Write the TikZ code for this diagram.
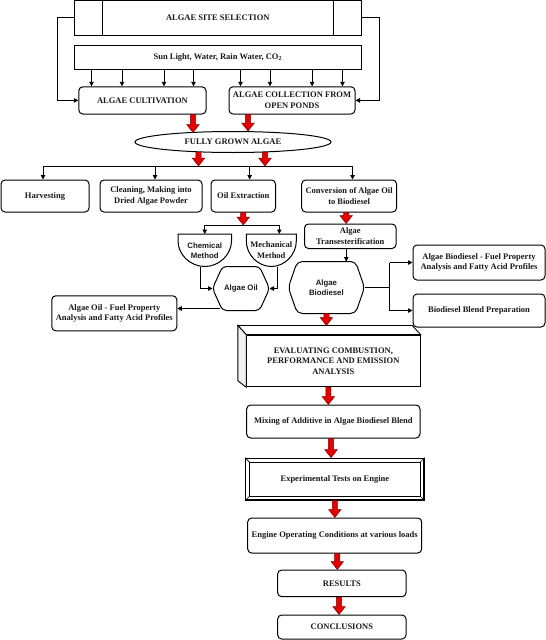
\documentclass[tikz,border=0pt]{standalone}
\usepackage{fontspec}
\setmainfont{Liberation Serif}
\newfontfamily\sansf{Liberation Sans}
\usetikzlibrary{arrows.meta,shapes.geometric,calc}
\definecolor{redfill}{RGB}{228,0,0}
\definecolor{redline}{RGB}{130,0,0}
\definecolor{txt}{RGB}{25,25,25}
\definecolor{sideface}{RGB}{242,242,242}
\newcommand\redarr[2]{\path[redarrow] let \p1=(#1), \p2=(#2) in
  (\x1-2.6pt,\y1) -- (\x1-2.6pt,\y2+8pt) -- (\x1-6.3pt,\y2+8pt) -- (\x1,\y2)
  -- (\x1+6.3pt,\y2+8pt) -- (\x1+2.6pt,\y2+8pt) -- (\x1+2.6pt,\y1) -- cycle;}
\begin{document}
\begin{tikzpicture}[x=1pt,y=-1pt,
  base/.style={line width=1pt, align=center, inner sep=1pt, text=txt,
    font=\bfseries\fontsize{8.5}{10.5}\selectfont},
  sz/.style 2 args={minimum width=#1pt, minimum height=#2pt},
  sq/.style={base, draw, rectangle},
  rbox/.style={base, draw, rectangle, rounded corners=4pt},
  ghost/.style={base, rectangle},
  sansfont/.style={font=\sansf\bfseries\fontsize{7.8}{10}\selectfont},
  outline/.style={line width=1pt, draw=black},
  arr/.style={line width=0.9pt, -{Triangle[length=4.5pt,width=4.5pt]}},
  conn/.style={line width=0.9pt},
  redarrow/.style={fill=redfill, draw=redline, line width=0.5pt, line join=miter},
]
\useasboundingbox (0,0) rectangle (546,640);

% ---- top boxes
\node[sq, sz={286.4}{34.2}] (site) at (217.8,17.9) {ALGAE SITE SELECTION};
\draw[outline] ([xshift=28.5pt]site.north west) -- ([xshift=28.5pt]site.south west);
\draw[outline] ([xshift=-28.5pt]site.north east) -- ([xshift=-28.5pt]site.south east);
\node[sq, sz={286.4}{23.8}] (sun) at (217.8,57.4) {Sun Light, Water, Rain Water, CO\textsubscript{2}};
\node[rbox, sz={127.2}{27.2}] (cult) at (142.4,100.4) {ALGAE CULTIVATION};
\node[rbox, sz={126}{27.2}] (coll) at (292,100.4) {ALGAE COLLECTION FROM\\OPEN PONDS};
\node[base, draw, ellipse, inner sep=0pt, sz={196}{21}] (ell) at (233,142) {FULLY GROWN ALGAE};

% ---- second row
\node[rbox, sz={88}{32}] (harv) at (45,196) {Harvesting};
\node[rbox, sz={102}{32}] (clean) at (151,196) {Cleaning, Making into\\Dried Algae Powder};
\node[rbox, sz={64.5}{32}] (oilx) at (243.25,196) {Oil Extraction};
\node[rbox, sz={94.9}{32}] (conv) at (349.15,196) {Conversion of Algae Oil\\to Biodiesel};

% ---- oil branch
\node[ghost, sansfont, sz={52.5}{31.5}] (chem) at (204.75,250.25) {Chemical\\Method};
\draw[outline] (chem.north west) -- (chem.north east) -- ([yshift=-7pt]chem.north east)
  .. controls +(0pt,-13.5pt) and +(14.5pt,0pt) .. (chem.south)
  .. controls +(-14.5pt,0pt) and +(0pt,-13.5pt) .. ([yshift=-7pt]chem.north west) -- cycle;
\node[ghost, sz={49}{31.5}] (mech) at (271.3,250.25) {Mechanical\\Method};
\draw[outline] (mech.north west) -- (mech.north east) -- ([yshift=-7pt]mech.north east)
  .. controls +(0pt,-13.5pt) and +(13.5pt,0pt) .. (mech.south)
  .. controls +(-13.5pt,0pt) and +(0pt,-13.5pt) .. ([yshift=-7pt]mech.north west) -- cycle;
\node[ghost, sansfont, sz={56}{43}] (oil) at (241,288.5) {Algae Oil};
\draw[outline, rounded corners=4pt] (oil.west) -- ([xshift=10pt]oil.north west)
  -- ([xshift=-10pt]oil.north east) -- (oil.east) -- ([xshift=-10pt]oil.south east)
  -- ([xshift=10pt]oil.south west) -- cycle;
\node[rbox, sz={125}{35}] (afp) at (114.3,313.3) {Algae Oil - Fuel Property\\Analysis and Fatty Acid Profiles};

% ---- biodiesel branch
\node[rbox, sz={91.5}{24.5}] (trans) at (350.25,236.25) {Algae\\Transesterification};
\node[ghost, sansfont, sz={75.2}{51}] (bd) at (326.4,287.5) {Algae\\Biodiesel};
\draw[outline, rounded corners=5pt] (bd.west) -- ([xshift=9pt]bd.north west)
  -- ([xshift=-9pt]bd.north east) -- (bd.east) -- ([xshift=-9pt]bd.south east)
  -- ([xshift=9pt]bd.south west) -- cycle;
\node[rbox, sz={132}{35}] (bdf) at (479,262.5) {Algae Biodiesel - Fuel Property\\Analysis and Fatty Acid Profiles};
\node[rbox, sz={132}{33}] (blend) at (479,310.5) {Biodiesel Blend Preparation};

% ---- lower column
\node[sq, sz={173.3}{51.7}] (eval) at (333.35,360.85) {EVALUATING COMBUSTION,\\PERFORMANCE AND EMISSION\\ANALYSIS};
\draw[outline, line width=0.9pt, fill=white] (eval.north west) -- ++(-8.4pt,9pt) -- ([xshift=-8.3pt,yshift=9pt]eval.north east) -- (eval.north east) -- cycle;
\draw[outline, line width=0.9pt, fill=sideface] (eval.north west) -- ++(-8.4pt,9pt) -- ([xshift=-8.4pt,yshift=6.5pt]eval.south west) -- (eval.south west) -- cycle;
\node[rbox, sz={173.3}{33}] (mix) at (333.35,421.5) {Mixing of Additive in Algae Biodiesel Blend};
\node[sq, line width=1.3pt, sz={178.3}{41.7}] (exp) at (334.85,479.15) {Experimental Tests on Engine};
\draw[line width=0.8pt] ([shift={(4.5pt,-4.5pt)}]exp.north west) rectangle ([shift={(-4.5pt,4.5pt)}]exp.south east);
\draw[line width=0.6pt] (exp.north west) -- ([shift={(4.5pt,-4.5pt)}]exp.north west);
\draw[line width=0.6pt] (exp.north east) -- ([shift={(-4.5pt,-4.5pt)}]exp.north east);
\draw[line width=0.6pt] (exp.south west) -- ([shift={(4.5pt,4.5pt)}]exp.south west);
\draw[line width=0.6pt] (exp.south east) -- ([shift={(-4.5pt,4.5pt)}]exp.south east);
\node[rbox, sz={174}{35}] (eng) at (334.7,535.5) {Engine Operating Conditions at various loads};
\node[rbox, sz={128.3}{26.7}] (res) at (341.85,583.35) {RESULTS};
\node[rbox, sz={128.3}{24}] (conc) at (341.85,627) {CONCLUSIONS};

% ---- black connectors
\draw[arr] (site.west) -- ++(-16.8pt,0pt) |- (cult.west);
\draw[arr] (site.east) -- ++(18pt,0pt) |- (coll.east);
\foreach \d [count=\i] in {13.2,43.7,85.7,115.2}{
  \coordinate (cs\i) at ($(cult.north west)+(\d,0)$);
  \draw[arr] (cs\i |- sun.south) -- (cs\i);
}
\foreach \d [count=\i] in {12,41.5,83.6,114}{
  \coordinate (ks\i) at ($(coll.north west)+(\d,0)$);
  \draw[arr] (ks\i |- sun.south) -- (ks\i);
}
\coordinate (br) at (0,166);
\coordinate (h1) at ([xshift=-2pt]harv.north);
\coordinate (h2) at ([xshift=4pt]clean.north);
\coordinate (h3) at ([xshift=6.4pt]oilx.north);
\coordinate (h4) at ([xshift=3.4pt]conv.north);
\draw[conn] (h1 |- br) -- (h4 |- br);
\foreach \h in {h1,h2,h3,h4}{ \draw[arr] (\h |- br) -- (\h); }

\coordinate (br2) at (0,225);
\coordinate (m1) at ([xshift=8pt]mech.north);
\draw[conn] (chem.north |- br2) -- (m1 |- br2);
\draw[arr] (chem.north |- br2) -- (chem.north);
\draw[arr] (m1 |- br2) -- (m1);
\coordinate (c1) at ([xshift=-4pt]chem.south);
\coordinate (m2) at ([xshift=6.3pt]mech.south);
\draw[arr] (c1) |- (oil.west);
\draw[arr] (m2) |- (oil.east);
\coordinate (o1) at ([xshift=7pt,yshift=2pt]oil.south west);
\draw[arr] (o1) -- (o1 -| afp.east);

\coordinate (t1) at ([xshift=-4pt]trans.south);
\draw[arr] (t1) -- (t1 |- bd.north);
\draw[conn] (bd.east) -- ++(25pt,0pt) coordinate (j);
\draw[conn] (j |- bdf.west) -- (j |- blend.west);
\draw[arr] (j |- bdf.west) -- (bdf.west);
\draw[arr] (j |- blend.west) -- (blend.west);

% ---- red arrows
\redarr{[xshift=-13.5pt]cult.south east}{[xshift=-40.5pt,yshift=-1.5pt]ell.north}
\redarr{[xshift=19.5pt]coll.south west}{[xshift=15.5pt]ell.north}
\redarr{[xshift=-34.5pt,yshift=1pt]ell.south}{br}
\redarr{[xshift=32pt,yshift=1pt]ell.south}{br}
\redarr{oilx.south}{br2}
\redarr{[xshift=-3pt]conv.south}{trans.north}
\redarr{bd.south}{[yshift=9pt]eval.north}
\redarr{[xshift=-5pt]eval.south}{mix.north}
\redarr{[xshift=-2.3pt]mix.south}{exp.north}
\redarr{exp.south}{eng.north}
\redarr{[xshift=2.6pt]eng.south}{res.north}
\redarr{[xshift=-2.8pt]res.south}{conc.north}
\end{tikzpicture}
\end{document}
